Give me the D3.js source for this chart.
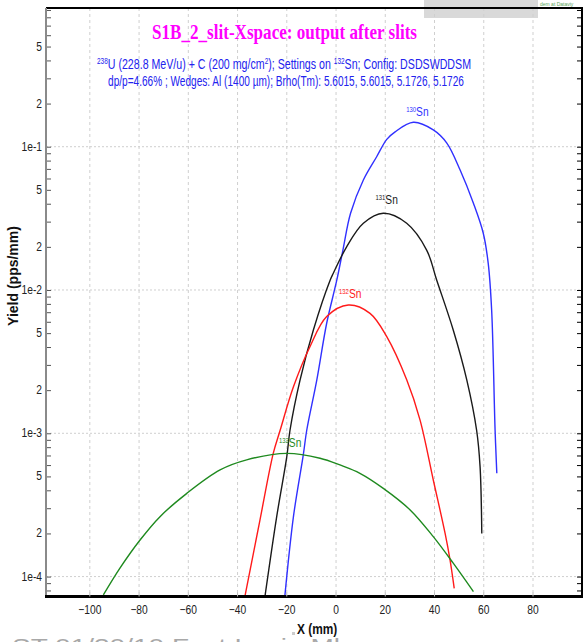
<!DOCTYPE html>
<html>
<head>
<meta charset="utf-8">
<script src="https://cdn.jsdelivr.net/npm/d3@7"></script>
<style>
  html, body { margin: 0; padding: 0; background: #fff; }
  svg { display: block; }
</style>
</head>
<body>
<svg id="chart" width="587" height="642"></svg>
<script>
// ---- data ----
const xTickValues = [-100, -80, -60, -40, -20, 0, 20, 40, 60, 80];
const yDecades = [1e-4, 1e-3, 1e-2, 1e-1];
const yDecadeLabels = ["1e-4", "1e-3", "1e-2", "1e-1"];

const sn130X = [-20.9, -17.3, -13.3, -11.9, -7.8, -3.8, 0.3, 2.8, 5.9, 11.1, 16.5, 20.6, 24.0, 31.4, 39.5, 45.0, 50.4, 55.8, 59.8, 61.8, 63.2, 64.6, 65.3];
const sn130Y = [7.0e-5, 2.62e-4, 7.06e-4, 1.05e-3, 2.36e-3, 5.86e-3, 1.17e-2, 1.90e-2, 3.43e-2, 5.86e-2, 8.51e-2, 0.1126, 0.127, 0.148, 0.131, 0.106, 0.0687, 0.0403, 0.0249, 0.0154, 0.00725, 0.00105, 5.26e-4];

const sn131X = [-29.0, -24.1, -20.0, -18.7, -14.6, -9.2, -2.4, -1.1, 4.3, 11.1, 19.2, 28.7, 36.8, 40.9, 47.6, 53.1, 57.1, 58.5, 59.2];
const sn131Y = [7.0e-5, 2.62e-4, 6.87e-4, 1.05e-3, 2.36e-3, 5.26e-3, 1.17e-2, 1.31e-2, 2.00e-2, 2.92e-2, 3.43e-2, 2.92e-2, 1.90e-2, 1.17e-2, 5.26e-3, 2.36e-3, 1.05e-3, 5.85e-4, 2.00e-4];

const sn132X = [-37.2, -30.9, -25.5, -22.7, -17.3, -10.6, -3.8, 5.0, 13.8, 20.6, 28.7, 34.1, 39.5, 44.3, 46.3, 48.0];
const sn132Y = [7.0e-5, 2.48e-4, 7.24e-4, 1.05e-3, 2.11e-3, 4.02e-3, 6.52e-3, 7.85e-3, 6.87e-3, 4.72e-3, 2.36e-3, 1.24e-3, 4.72e-4, 2.00e-4, 1.31e-4, 8.28e-5];

const sn133X = [-94.5, -87.7, -79.6, -71.5, -60.6, -47.1, -36.3, -20.0, -6.5, 1.6, 9.7, 19.2, 30.1, 39.5, 47.6, 55.8];
const sn133Y = [7.45e-5, 1.15e-4, 1.80e-4, 2.62e-4, 3.81e-4, 5.55e-4, 6.52e-4, 7.24e-4, 6.70e-4, 6.01e-4, 5.26e-4, 4.13e-4, 2.92e-4, 1.90e-4, 1.24e-4, 7.85e-5];

const seriesNames = ["130", "131", "132", "133"];
const seriesColors = ["#3030ff", "#1a1a1a", "#ff1a1a", "#1f8a1f"];
const seriesX = [sn130X, sn131X, sn132X, sn133X];
const seriesY = [sn130Y, sn131Y, sn132Y, sn133Y];
// label anchor (data coords of label left / baseline)
const labelX = [28.5, 16, 1.2, -23.2];
const labelY = [0.165, 0.0397, 0.0088, 8.0e-4];

const titleText = "S1B_2_slit-Xspace:  output after slits";

// ---- layout ----
const svg = d3.select("#chart");
const L = 46, R = 582, T = 8, B = 596.5;
const sans = "'Liberation Sans', Arial, sans-serif";

const x = d3.scaleLinear().domain([-117.8, 99.9]).range([L, R]);
const y = d3.scaleLog().domain([7.26e-5, 0.929]).range([B, T]);

// gray box top right
svg.append("rect").attr("x", 424).attr("y", 0).attr("width", 114).attr("height", 18).attr("fill", "#d9d9d9");
svg.append("text").attr("x", 540).attr("y", 6).attr("font-size", 5).attr("fill", "#5aa55a")
  .attr("font-family", sans).text("dem at Dataviy");

// grid
const minorTicks = [];
for (let e = -5; e <= 0; e++) {
  for (let m = 1; m <= 9; m++) {
    const v = m * Math.pow(10, e);
    if (v >= 7.26e-5 && v <= 0.929) minorTicks.push(v);
  }
}
const grid = svg.append("g");
grid.selectAll("line.vx").data(xTickValues).join("line")
  .attr("x1", d => x(d)).attr("x2", d => x(d)).attr("y1", T).attr("y2", B)
  .attr("stroke", "#cfcfcf").attr("stroke-width", 1).attr("stroke-dasharray", "3,3");
grid.selectAll("line.hy").data(yDecades).join("line")
  .attr("x1", L).attr("x2", R).attr("y1", d => y(d)).attr("y2", d => y(d))
  .attr("stroke", "#cfcfcf").attr("stroke-width", 1).attr("stroke-dasharray", "2,2");

// curves
svg.append("clipPath").attr("id", "clip").append("rect")
  .attr("x", L).attr("y", T).attr("width", R - L).attr("height", B - T);
const line = d3.line().x(d => x(d[0])).y(d => y(d[1])).curve(d3.curveCatmullRom.alpha(0.5));
const curves = svg.append("g").attr("clip-path", "url(#clip)");
seriesNames.forEach((n, i) => {
  const pts = seriesX[i].map((v, j) => [v, seriesY[i][j]]);
  curves.append("path").datum(pts).attr("d", line)
    .attr("fill", "none").attr("stroke", seriesColors[i]).attr("stroke-width", 1.4);
});

// curve labels
seriesNames.forEach((n, i) => {
  const t = svg.append("text")
    .attr("transform", `translate(${x(labelX[i])},${y(labelY[i])}) scale(0.85,1)`)
    .attr("font-family", sans).attr("fill", seriesColors[i]).attr("font-size", 12);
  t.append("tspan").attr("font-size", 7).attr("dy", -4).text(n);
  t.append("tspan").attr("dy", 4).text("Sn");
});

// axes frame
svg.append("line").attr("x1", L).attr("x2", R + 1).attr("y1", T).attr("y2", T).attr("stroke", "#000").attr("stroke-width", 2);
svg.append("line").attr("x1", R).attr("x2", R).attr("y1", T).attr("y2", B).attr("stroke", "#000").attr("stroke-width", 2);
svg.append("line").attr("x1", L).attr("x2", L).attr("y1", T).attr("y2", B).attr("stroke", "#8a8a8a").attr("stroke-width", 2);
svg.append("line").attr("x1", L - 1).attr("x2", R + 1).attr("y1", B).attr("y2", B).attr("stroke", "#000").attr("stroke-width", 3);

// y axis ticks (left & right, inward)
const fmtY = d => {
  const i = yDecades.indexOf(d);
  if (i >= 0) return yDecadeLabels[i];
  const m = Math.round(d / Math.pow(10, Math.floor(Math.log10(d) + 1e-9)));
  return (m === 2 || m === 5) ? String(m) : "";
};
const leftAxis = d3.axisRight(y).tickValues(minorTicks).tickFormat("")
  .tickSizeOuter(0).tickSizeInner(4);
const gl = svg.append("g").attr("transform", `translate(${L + 1},0)`).call(leftAxis);
gl.select(".domain").remove();
gl.selectAll(".tick line").attr("stroke", "#555").attr("stroke-width", 1);
const rightAxis = d3.axisLeft(y).tickValues(minorTicks).tickFormat("")
  .tickSizeOuter(0).tickSizeInner(4);
const gr = svg.append("g").attr("transform", `translate(${R - 1},0)`).call(rightAxis);
gr.select(".domain").remove();
gr.selectAll(".tick line").attr("stroke", "#000").attr("stroke-width", 1);

// y tick labels (condensed)
const labeled = minorTicks.filter(d => fmtY(d) !== "");
svg.append("g").selectAll("text").data(labeled).join("text")
  .attr("transform", d => `translate(42,${y(d) + 4}) scale(0.82,1)`)
  .attr("text-anchor", "end").attr("font-family", sans).attr("font-size", 12.5).attr("fill", "#222")
  .text(fmtY);

// x axis labels (condensed)
svg.append("g").selectAll("text").data(xTickValues).join("text")
  .attr("transform", d => `translate(${x(d)},${B + 17}) scale(0.82,1)`)
  .attr("text-anchor", "middle").attr("font-family", sans).attr("font-size", 12.5).attr("fill", "#222")
  .text(d3.format("d"));
svg.append("g").selectAll("line").data(xTickValues).join("line")
  .attr("x1", d => x(d)).attr("x2", d => x(d)).attr("y1", B - 4).attr("y2", B)
  .attr("stroke", "#bbb").attr("stroke-width", 1);

// axis titles
svg.append("text").attr("transform", "translate(297,634) scale(0.85,1)").attr("font-family", sans)
  .attr("font-weight", "bold").attr("font-size", 14).attr("fill", "#111").text("X (mm)");
svg.append("rect").attr("x", 292).attr("y", 632).attr("width", 3).attr("height", 3).attr("fill", "#ccc");
svg.append("text").attr("transform", "translate(18,276) rotate(-90)").attr("text-anchor", "middle")
  .attr("font-family", sans).attr("font-weight", "bold")
  .attr("font-size", 14).attr("fill", "#111").text("Yield (pps/mm)");

// title and subtitles
svg.append("text").attr("x", 284.5).attr("y", 39).attr("text-anchor", "middle")
  .attr("font-family", "'Liberation Serif', 'Times New Roman', serif").attr("font-weight", "bold")
  .attr("font-size", 22).attr("fill", "#ff00ff")
  .attr("textLength", 265).attr("lengthAdjust", "spacingAndGlyphs").text(titleText);

const s1 = svg.append("text").attr("transform", "translate(284,69) scale(0.76,1)").attr("text-anchor", "middle")
  .attr("font-family", sans).attr("font-size", 14).attr("fill", "#2222ee");
s1.append("tspan").attr("font-size", 8.5).attr("dy", -5).text("238");
s1.append("tspan").attr("dy", 5).text("U (228.8 MeV/u) + C (200 mg/cm");
s1.append("tspan").attr("font-size", 8.5).attr("dy", -5).text("2");
s1.append("tspan").attr("dy", 5).text(");  Settings on ");
s1.append("tspan").attr("font-size", 8.5).attr("dy", -5).text("132");
s1.append("tspan").attr("dy", 5).text("Sn;  Config: DSDSWDDSM");

svg.append("text").attr("transform", "translate(286,86) scale(0.72,1)").attr("text-anchor", "middle")
  .attr("font-family", sans).attr("font-size", 14).attr("fill", "#2222ee")
  .text("dp/p=4.66% ; Wedges: Al (1400 \u00b5m); Brho(Tm): 5.6015, 5.6015, 5.1726, 5.1726");

// bottom cut-off footer
svg.append("text").attr("x", 12).attr("y", 653).attr("font-family", sans)
  .attr("font-size", 21).attr("fill", "#a8a8a8")
  .attr("textLength", 328).attr("lengthAdjust", "spacingAndGlyphs").text("ST  01/30/10  Fast Ion in Ml");
</script>
</body>
</html>
